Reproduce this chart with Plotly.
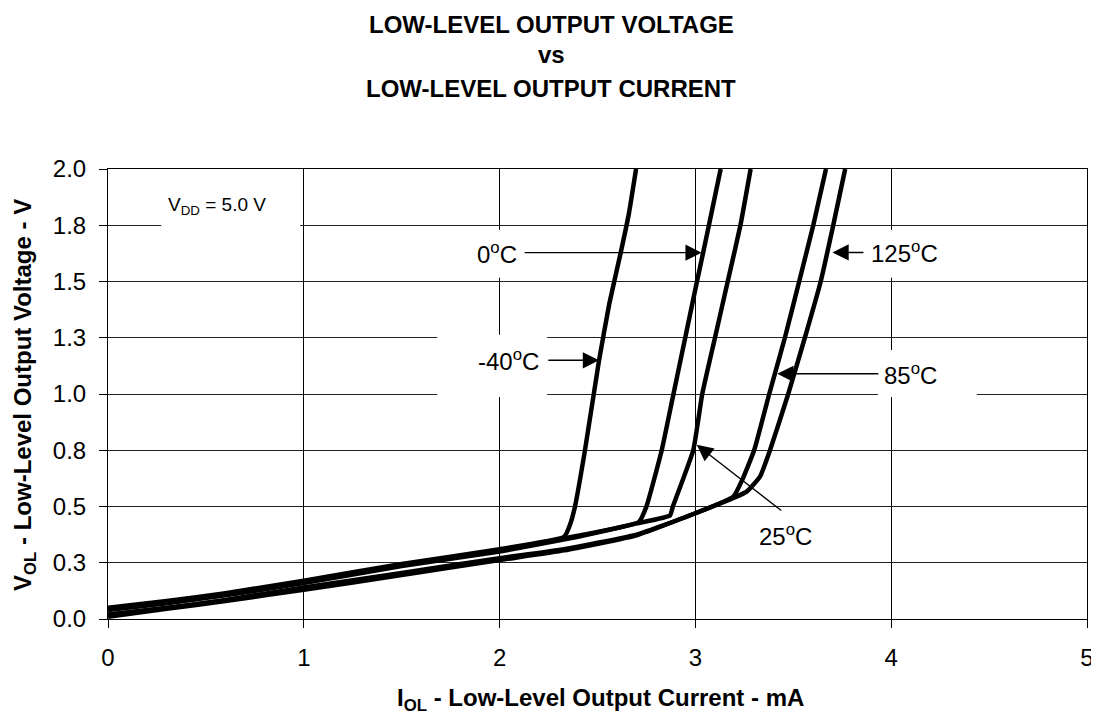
import plotly.graph_objects as go

# ---- data ----
labels = ["-40°C", "0°C", "25°C", "85°C", "125°C"]

x_m40 = [0, 0.3, 0.6, 1.0, 1.5, 2.0, 2.33, 2.36, 2.385, 2.436, 2.508, 2.56, 2.619, 2.66, 2.697]
y_m40 = [0.05, 0.08, 0.115, 0.17, 0.245, 0.31, 0.365, 0.42, 0.5, 0.75, 1.15, 1.4, 1.63, 1.8, 2.0]

x_0 = [0, 0.3, 0.6, 1.0, 1.5, 2.0, 2.4, 2.71, 2.75, 2.828, 2.888, 2.948, 3.008, 3.04, 3.069, 3.129]
y_0 = [0.045, 0.075, 0.11, 0.165, 0.24, 0.305, 0.37, 0.43, 0.5, 0.75, 1.0, 1.25, 1.5, 1.63, 1.75, 2.0]

x_25 = [0, 0.3, 0.6, 1.0, 1.5, 2.0, 2.4, 2.7, 2.87, 2.885, 2.989, 3.035, 3.10, 3.165, 3.23, 3.282]
y_25 = [0.04, 0.07, 0.105, 0.16, 0.235, 0.30, 0.365, 0.425, 0.46, 0.5, 0.75, 1.0, 1.25, 1.5, 1.75, 2.0]

x_85 = [0, 0.3, 0.6, 1.0, 1.5, 2.0, 2.33, 2.7, 3.0, 3.194, 3.24, 3.30, 3.377, 3.457, 3.53, 3.602, 3.667]
y_85 = [0.02, 0.05, 0.085, 0.14, 0.205, 0.27, 0.31, 0.375, 0.47, 0.544, 0.62, 0.75, 1.0, 1.25, 1.5, 1.75, 2.0]

x_125 = [0, 0.3, 0.6, 1.0, 1.5, 2.0, 2.33, 2.7, 3.0, 3.2, 3.262, 3.33, 3.381, 3.474, 3.559, 3.64, 3.704, 3.765]
y_125 = [0.01, 0.045, 0.08, 0.13, 0.195, 0.262, 0.305, 0.372, 0.47, 0.54, 0.566, 0.633, 0.75, 1.0, 1.25, 1.5, 1.75, 2.0]

series_x = [x_m40, x_0, x_25, x_85, x_125]
series_y = [y_m40, y_0, y_25, y_85, y_125]

x_ticks = [0, 1, 2, 3, 4, 5]
y_tickvals = [0, 0.25, 0.5, 0.75, 1.0, 1.25, 1.5, 1.75, 2.0]
y_ticktext = ["0.0", "0.3", "0.5", "0.8", "1.0", "1.3", "1.5", "1.8", "2.0"]

FONT = "Liberation Sans, Arial, sans-serif"

fig = go.Figure()
for xs, ys, name in zip(series_x, series_y, labels):
    fig.add_trace(go.Scatter(x=xs, y=ys, mode="lines", name=name,
                             line=dict(color="black", width=4.5, shape="spline", smoothing=0.4),
                             showlegend=False))

# white boxes behind labels (break the grid lines)
boxes = [
    (0.272, 0.981, 1.721, 1.908),   # VDD
    (1.773, 2.207, 1.517, 1.730),   # 0C
    (1.681, 2.243, 0.987, 1.263),   # -40C
    (3.840, 4.274, 1.517, 1.730),   # 125C
    (3.932, 4.437, 0.987, 1.196),   # 85C
]
for x0, x1, y0, y1 in boxes:
    fig.add_shape(type="rect", x0=x0, x1=x1, y0=y0, y1=y1, xref="x", yref="y",
                  fillcolor="white", line=dict(width=0), layer="between")

texts = [
    (0.556, 1.834, "V<sub>DD</sub> = 5.0 V", 19),
    (1.986, 1.628, "0<sup>o</sup>C", 24),
    (2.043, 1.150, "-40<sup>o</sup>C", 24),
    (4.07, 1.629, "125<sup>o</sup>C", 24),
    (4.099, 1.090, "85<sup>o</sup>C", 24),
    (3.46, 0.374, "25<sup>o</sup>C", 24),
]
for x, y, t, s in texts:
    fig.add_annotation(x=x, y=y, text=t, showarrow=False, xref="x", yref="y",
                       font=dict(family=FONT, size=s, color="black"))

# arrows: (head x, head y, tail x, tail y)
arrows = [
    (3.032, 1.628, 2.12, 1.628),
    (2.508, 1.150, 2.241, 1.150),
    (3.70, 1.629, 3.866, 1.629),
    (3.418, 1.090, 3.942, 1.090),
    (3.007, 0.774, 3.446, 0.477),
]
for hx, hy, tx, ty in arrows:
    fig.add_annotation(x=hx, y=hy, ax=tx, ay=ty, xref="x", yref="y", axref="x", ayref="y",
                       text="", showarrow=True, arrowhead=2, arrowsize=2.5, arrowwidth=1.3,
                       arrowcolor="black", standoff=0, startstandoff=0)

# layout geometry (page has an 8px body margin)
W, H = 1091, 707
L, R, T, B = 100, 12, 161, 96
pw, ph = W - L - R, H - T - B
OFF = 8
def py(p):
    return (H - B - (p - OFF)) / ph
def px(p):
    return (p - OFF - L) / pw

title_font = dict(family=FONT, size=24, color="black")
for yy, t in [(24, "<b>LOW-LEVEL OUTPUT VOLTAGE</b>"), (55, "<b>vs</b>"), (88, "<b>LOW-LEVEL OUTPUT CURRENT</b>")]:
    fig.add_annotation(x=px(551), y=py(yy), xref="paper", yref="paper", text=t, showarrow=False,
                       font=title_font, xanchor="center", yanchor="middle")

axis_title_font = dict(family=FONT, size=24, color="black")
fig.add_annotation(x=px(600), y=py(699), xref="paper", yref="paper",
                   text="<b>I<sub>OL</sub> - Low-Level Output Current - mA</b>", showarrow=False,
                   font=axis_title_font, xanchor="center", yanchor="middle")
fig.add_annotation(x=px(24), y=py(395), xref="paper", yref="paper", textangle=-90,
                   text="<b>V<sub>OL</sub> - Low-Level Output Voltage - V</b>", showarrow=False,
                   font=axis_title_font, xanchor="center", yanchor="middle")

fig.update_xaxes(range=[0, 5], tickvals=x_ticks, showgrid=True, gridcolor="black", gridwidth=1,
                 showline=True, linecolor="black", linewidth=1, mirror=True,
                 ticks="outside", ticklen=8, tickcolor="black", automargin=False,
                 tickfont=dict(family=FONT, size=24, color="black"), ticklabelstandoff=9,
                 zeroline=False)
fig.update_yaxes(range=[0, 2], tickvals=y_tickvals, ticktext=y_ticktext, showgrid=True,
                 gridcolor="#222", gridwidth=1,
                 showline=True, linecolor="black", linewidth=1, mirror=True,
                 ticks="outside", ticklen=8, tickcolor="black", automargin=False,
                 tickfont=dict(family=FONT, size=24, color="black"), ticklabelstandoff=8,
                 zeroline=False)

fig.update_layout(width=W, height=H, margin=dict(l=L, r=R, t=T, b=B),
                  plot_bgcolor="white", paper_bgcolor="white", showlegend=False)

fig.write_html("out.html")
